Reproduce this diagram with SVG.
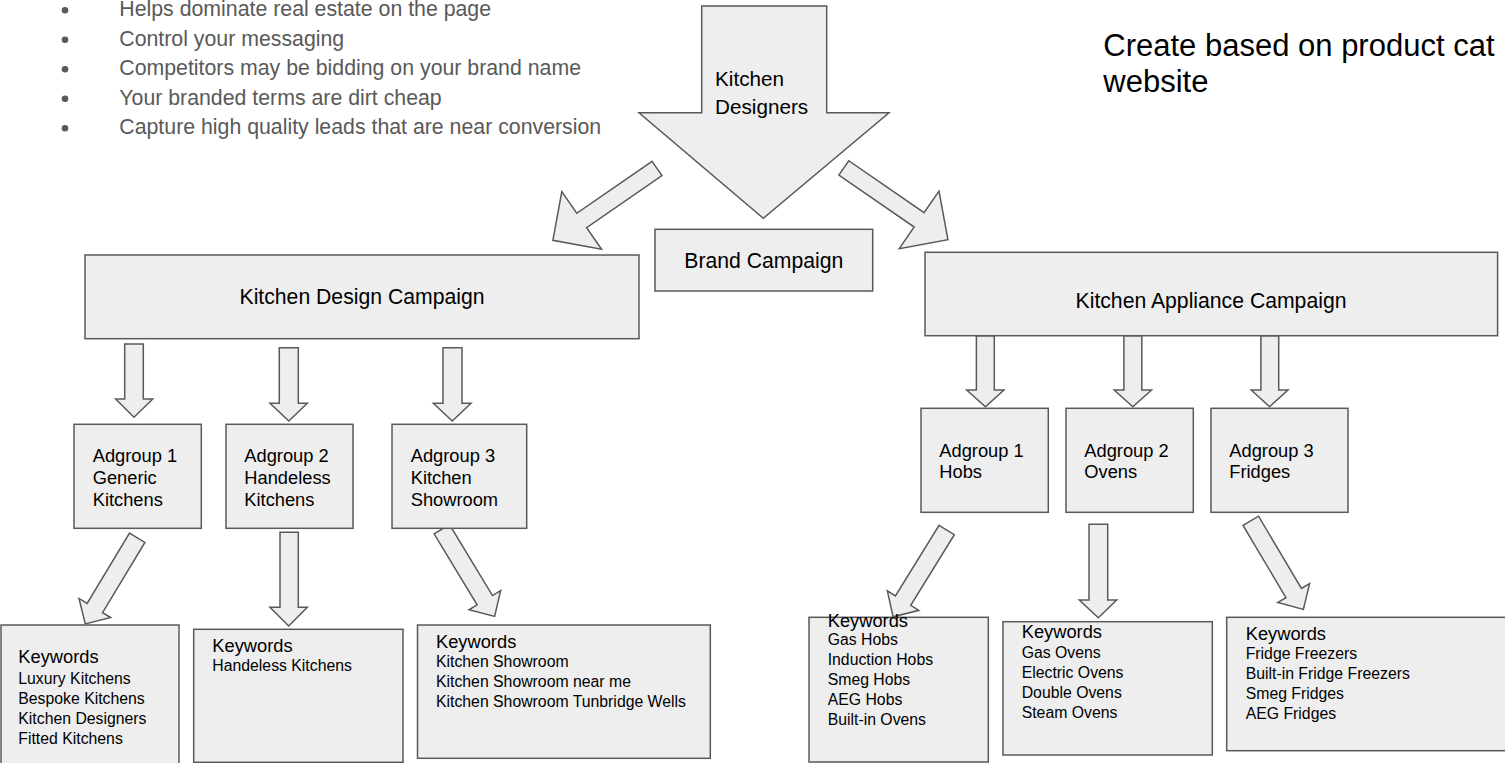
<svg xmlns="http://www.w3.org/2000/svg" width="1505" height="763" viewBox="0 0 1505 763">
<style>
.box{fill:#eeeeee;stroke:#595959;stroke-width:1.5}
.arr{fill:#eeeeee;stroke:#595959;stroke-width:1.5;stroke-linejoin:miter}
text{font-family:"Liberation Sans",Arial,sans-serif;fill:#000}
.lbl{font-size:21.2px}
.ag{font-size:18.3px}
.kh{font-size:18.3px}
.kw{font-size:15.8px}
.bul{font-size:21.3px;fill:#595959}
.note{font-size:31px}
</style>
<rect width="1505" height="763" fill="#ffffff"/>

<g id="bullets">
<circle cx="65" cy="10.3" r="3.3" fill="#595959"/>
<circle cx="65" cy="39.8" r="3.3" fill="#595959"/>
<circle cx="65" cy="69.3" r="3.3" fill="#595959"/>
<circle cx="65" cy="98.8" r="3.3" fill="#595959"/>
<circle cx="65" cy="128.3" r="3.3" fill="#595959"/>
<text class="bul" x="119.3" y="16.3">Helps dominate real estate on the page</text>
<text class="bul" x="119.3" y="45.8">Control your messaging</text>
<text class="bul" x="119.3" y="75.3">Competitors may be bidding on your brand name</text>
<text class="bul" x="119.3" y="104.8">Your branded terms are dirt cheap</text>
<text class="bul" x="119.3" y="134.3">Capture high quality leads that are near conversion</text>
</g>

<g id="note">
<text class="note" x="1103.3" y="55.5">Create based on product cat</text>
<text class="note" x="1103.3" y="92">website</text>
</g>

<g id="kitchen-designers">
<polygon class="arr" points="701.7,6 826.7,6 826.7,112.7 889,112.7 763.3,218.3 639,112.7 701.7,112.7"/>
<text class="lbl" x="715" y="86" style="font-size:20.7px">Kitchen</text>
<text class="lbl" x="715" y="114" style="font-size:20.7px">Designers</text>
</g>

<g id="connectors">
<!-- top diagonal arrows -->
<polygon class="arr" transform="translate(657,168.5) rotate(55.4)" points="-8.7,0 8.7,0 8.7,91.5 35,91.5 0,126.5 -35,91.5 -8.7,91.5"/>
<polygon class="arr" transform="translate(843.8,167.9) rotate(-55.4)" points="-8.7,0 8.7,0 8.7,91.5 35,91.5 0,126.5 -35,91.5 -8.7,91.5"/>
<!-- design campaign to adgroups -->
<polygon class="arr" points="124.7,344 143.3,344 143.3,399 152.7,399 134,417.3 115.7,399 124.7,399"/>
<polygon class="arr" points="279.3,347.7 298.3,347.7 298.3,403.3 307.3,403.3 288.8,421 270,403.3 279.3,403.3"/>
<polygon class="arr" points="443,347.7 462,347.7 462,403.3 471,403.3 452.3,421 433.3,403.3 443,403.3"/>
<!-- appliance campaign to adgroups -->
<polygon class="arr" points="976.4,335.7 994.3,335.7 994.3,390 1004,390 985.4,406.7 966.7,390 976.4,390"/>
<polygon class="arr" points="1123.9,335.7 1141.8,335.7 1141.8,390 1151.5,390 1132.8,406.7 1114.2,390 1123.9,390"/>
<polygon class="arr" points="1260.9,335.7 1278.7,335.7 1278.7,390 1288,390 1269.6,406.7 1251.2,390 1260.9,390"/>
<!-- adgroups to keywords (left) -->
<polygon class="arr" transform="translate(137.2,537.8) rotate(31.1)" points="-9,0 9,0 9,82 18.5,82 0,100.5 -18.5,82 -9,82"/>
<polygon class="arr" points="280,532.3 298.3,532.3 298.3,607.3 307.3,607.3 288.7,626 270,607.3 280,607.3"/>
<polygon class="arr" transform="translate(441.8,529.2) rotate(-31.2)" points="-9,0 9,0 9,83 18.5,83 0,102 -18.5,83 -9,83"/>
<!-- adgroups to keywords (right) -->
<polygon class="arr" transform="translate(946.7,530) rotate(31.7)" points="-9,0 9,0 9,83 18.5,83 0,102 -18.5,83 -9,83"/>
<polygon class="arr" points="1089,524.3 1107.7,524.3 1107.7,600 1116.7,600 1098.3,617.7 1079.3,600 1089,600"/>
<polygon class="arr" transform="translate(1250.8,520.8) rotate(-30.7)" points="-9,0 9,0 9,84 18.5,84 0,103 -18.5,84 -9,84"/>
</g>

<g id="brand-campaign">
<rect class="box" x="655" y="229.3" width="217.7" height="61.7"/>
<text class="lbl" x="763.8" y="268.3" text-anchor="middle">Brand Campaign</text>
</g>

<g id="kitchen-design-campaign">
<rect class="box" x="85" y="255" width="554" height="83.7"/>
<text class="lbl" x="362" y="304.3" text-anchor="middle">Kitchen Design Campaign</text>
</g>

<g id="kitchen-appliance-campaign">
<rect class="box" x="925" y="252.3" width="572.6" height="83.4"/>
<text class="lbl" x="1211" y="308.3" text-anchor="middle">Kitchen Appliance Campaign</text>
</g>

<g id="design-adgroup-1">
<rect class="box" x="74" y="424.3" width="127.3" height="104"/>
<text class="ag" x="92.7" y="462"><tspan x="92.7">Adgroup 1</tspan><tspan x="92.7" dy="22">Generic</tspan><tspan x="92.7" dy="22">Kitchens</tspan></text>
</g>
<g id="design-adgroup-2">
<rect class="box" x="226" y="424.3" width="127" height="104"/>
<text class="ag" x="244.3" y="462"><tspan x="244.3">Adgroup 2</tspan><tspan x="244.3" dy="22">Handeless</tspan><tspan x="244.3" dy="22">Kitchens</tspan></text>
</g>
<g id="design-adgroup-3">
<rect class="box" x="392" y="424.3" width="134.7" height="104"/>
<text class="ag" x="410.7" y="462"><tspan x="410.7">Adgroup 3</tspan><tspan x="410.7" dy="22">Kitchen</tspan><tspan x="410.7" dy="22">Showroom</tspan></text>
</g>

<g id="appliance-adgroup-1">
<rect class="box" x="921" y="408.3" width="127.3" height="104"/>
<text class="ag" x="939.3" y="456.5"><tspan x="939.3">Adgroup 1</tspan><tspan x="939.3" dy="21.8">Hobs</tspan></text>
</g>
<g id="appliance-adgroup-2">
<rect class="box" x="1066" y="408.3" width="127.3" height="104"/>
<text class="ag" x="1084.3" y="456.5"><tspan x="1084.3">Adgroup 2</tspan><tspan x="1084.3" dy="21.8">Ovens</tspan></text>
</g>
<g id="appliance-adgroup-3">
<rect class="box" x="1211" y="408.3" width="137" height="104"/>
<text class="ag" x="1229.3" y="456.5"><tspan x="1229.3">Adgroup 3</tspan><tspan x="1229.3" dy="21.8">Fridges</tspan></text>
</g>

<g id="keywords-generic">
<rect class="box" x="1" y="625" width="178" height="150"/>
<text class="kh" x="18.3" y="663.3">Keywords</text>
<text class="kw" x="18.3" y="684"><tspan x="18.3">Luxury Kitchens</tspan><tspan x="18.3" dy="20">Bespoke Kitchens</tspan><tspan x="18.3" dy="20">Kitchen Designers</tspan><tspan x="18.3" dy="20">Fitted Kitchens</tspan></text>
</g>
<g id="keywords-handeless">
<rect class="box" x="193.7" y="629.3" width="209.3" height="133"/>
<text class="kh" x="212.3" y="651.7">Keywords</text>
<text class="kw" x="212.3" y="670.7">Handeless Kitchens</text>
</g>
<g id="keywords-showroom">
<rect class="box" x="417.5" y="625" width="292.8" height="133.3"/>
<text class="kh" x="436" y="648">Keywords</text>
<text class="kw" x="436" y="666.7"><tspan x="436">Kitchen Showroom</tspan><tspan x="436" dy="20">Kitchen Showroom near me</tspan><tspan x="436" dy="20">Kitchen Showroom Tunbridge Wells</tspan></text>
</g>

<g id="keywords-hobs">
<rect class="box" x="809" y="617.3" width="179.3" height="144.7"/>
<text class="kh" x="827.7" y="626.7">Keywords</text>
<text class="kw" x="827.7" y="645"><tspan x="827.7">Gas Hobs</tspan><tspan x="827.7" dy="20">Induction Hobs</tspan><tspan x="827.7" dy="20">Smeg Hobs</tspan><tspan x="827.7" dy="20">AEG Hobs</tspan><tspan x="827.7" dy="20">Built-in Ovens</tspan></text>
</g>
<g id="keywords-ovens">
<rect class="box" x="1003" y="621.7" width="209.3" height="133.3"/>
<text class="kh" x="1021.7" y="638.3">Keywords</text>
<text class="kw" x="1021.7" y="658.3"><tspan x="1021.7">Gas Ovens</tspan><tspan x="1021.7" dy="20">Electric Ovens</tspan><tspan x="1021.7" dy="20">Double Ovens</tspan><tspan x="1021.7" dy="20">Steam Ovens</tspan></text>
</g>
<g id="keywords-fridges">
<rect class="box" x="1226.7" y="617.3" width="290" height="133.4"/>
<text class="kh" x="1245.7" y="639.5">Keywords</text>
<text class="kw" x="1245.7" y="659.3"><tspan x="1245.7">Fridge Freezers</tspan><tspan x="1245.7" dy="20">Built-in Fridge Freezers</tspan><tspan x="1245.7" dy="20">Smeg Fridges</tspan><tspan x="1245.7" dy="20">AEG Fridges</tspan></text>
</g>
</svg>
